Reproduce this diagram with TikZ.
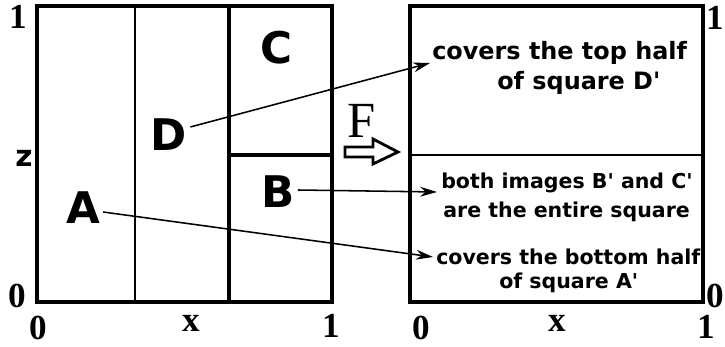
\documentclass[tikz,border=0pt]{standalone}
\usepackage{fontspec}
\setmainfont{Liberation Serif}
\newfontfamily\comic{DejaVu Sans}[Ligatures=TeXOff]
\usetikzlibrary{arrows.meta}

\begin{document}
\begin{tikzpicture}[
    x=0.025cm, y=-0.025cm,
    frame/.style={black, line width=3.5pt},
    thinline/.style={black, line width=1.9pt},
    midline/.style={black, line width=2.6pt},
    link/.style={black, line width=1.1pt, -{Stealth[length=12pt, width=7pt]}},
    num/.style={font=\bfseries\fontsize{25}{25}\selectfont, inner sep=0pt},
    piece/.style={font=\comic\bfseries\fontsize{31}{31}\selectfont, inner sep=0pt},
    txt/.style={font=\comic\bfseries\fontsize{14.6}{15}\selectfont, anchor=west, inner sep=0pt},
    bigtxt/.style={txt, font=\comic\bfseries\fontsize{17}{17}\selectfont}
]
\useasboundingbox (0,0) rectangle (725,347);

% =========================================================
% LEFT SQUARE: the pieces A, B, C, D
% =========================================================
\draw[thinline] (135,6) -- (135,302);
\draw[midline] (229,6) -- (229,302);
\draw[midline] (229,155) -- (332,155);
\draw[frame] (37,6) rectangle (332,302);

% axis labels
\node[num] (ltop) at (18,17) {1};
\node[num] (lzero) at (17,296) {0};
\node[font=\comic\bfseries\fontsize{21}{21}\selectfont, inner sep=0pt] (lz) at (24,158) {z};
\node[num] (lbzero) at (38,328) {0};
\node[num] (lbx) at (191,323) {x};
\node[num] (lbone) at (331,326) {1};

% the pieces
\node[piece] (C) at (276,48) {C};
\node[piece] (D) at (169,135) {D};
\node[piece] (B) at (278,192) {B};
\node[piece] (A) at (83,208) {A};

% =========================================================
% THE MAP F
% =========================================================
\node[font=\fontsize{36}{36}\selectfont, inner sep=0pt] (F) at (362,121) {F};
\draw[black, line width=2pt, line join=miter]
  (345,147) -- (373,147) -- (373,139) -- (398,152) -- (373,164)
  -- (373,157) -- (345,157) -- cycle;

% =========================================================
% RIGHT SQUARE: the images
% =========================================================
\draw[thinline] (410,155) -- (703,155);
\draw[frame] (410,6) rectangle (703,302);

% axis labels
\node[num] (rtop) at (715,18) {1};
\node[num] (rzero) at (715,296) {0};
\node[num] (rbzero) at (421,328) {0};
\node[num] (rbx) at (557,323) {x};
\node[num] (rbone) at (706,327) {1};

% what the pieces become
\node[bigtxt] (top1) at (432,53) {covers the top half};
\node[bigtxt] (top2) at (497,83) {of square D'};
\node[txt] (mid1) at (441,183) {both images B' and C'};
\node[txt] (mid2) at (443,212) {are the entire square};
\node[txt] (bot1) at (436,257) {covers the bottom half};
\node[txt] (bot2) at (499,283) {of square A'};

% arrows from the pieces to their images
\draw[link] ([shift={(3,-8)}]D.east) -- ([shift={(-2,10)}]top1.west);
\draw[link] ([shift={(3,-2)}]B.east) -- ([shift={(-4,9)}]mid1.west);
\draw[link] ([shift={(3,4)}]A.east) -- ([shift={(-3,0)}]bot1.west);

\end{tikzpicture}
\end{document}
